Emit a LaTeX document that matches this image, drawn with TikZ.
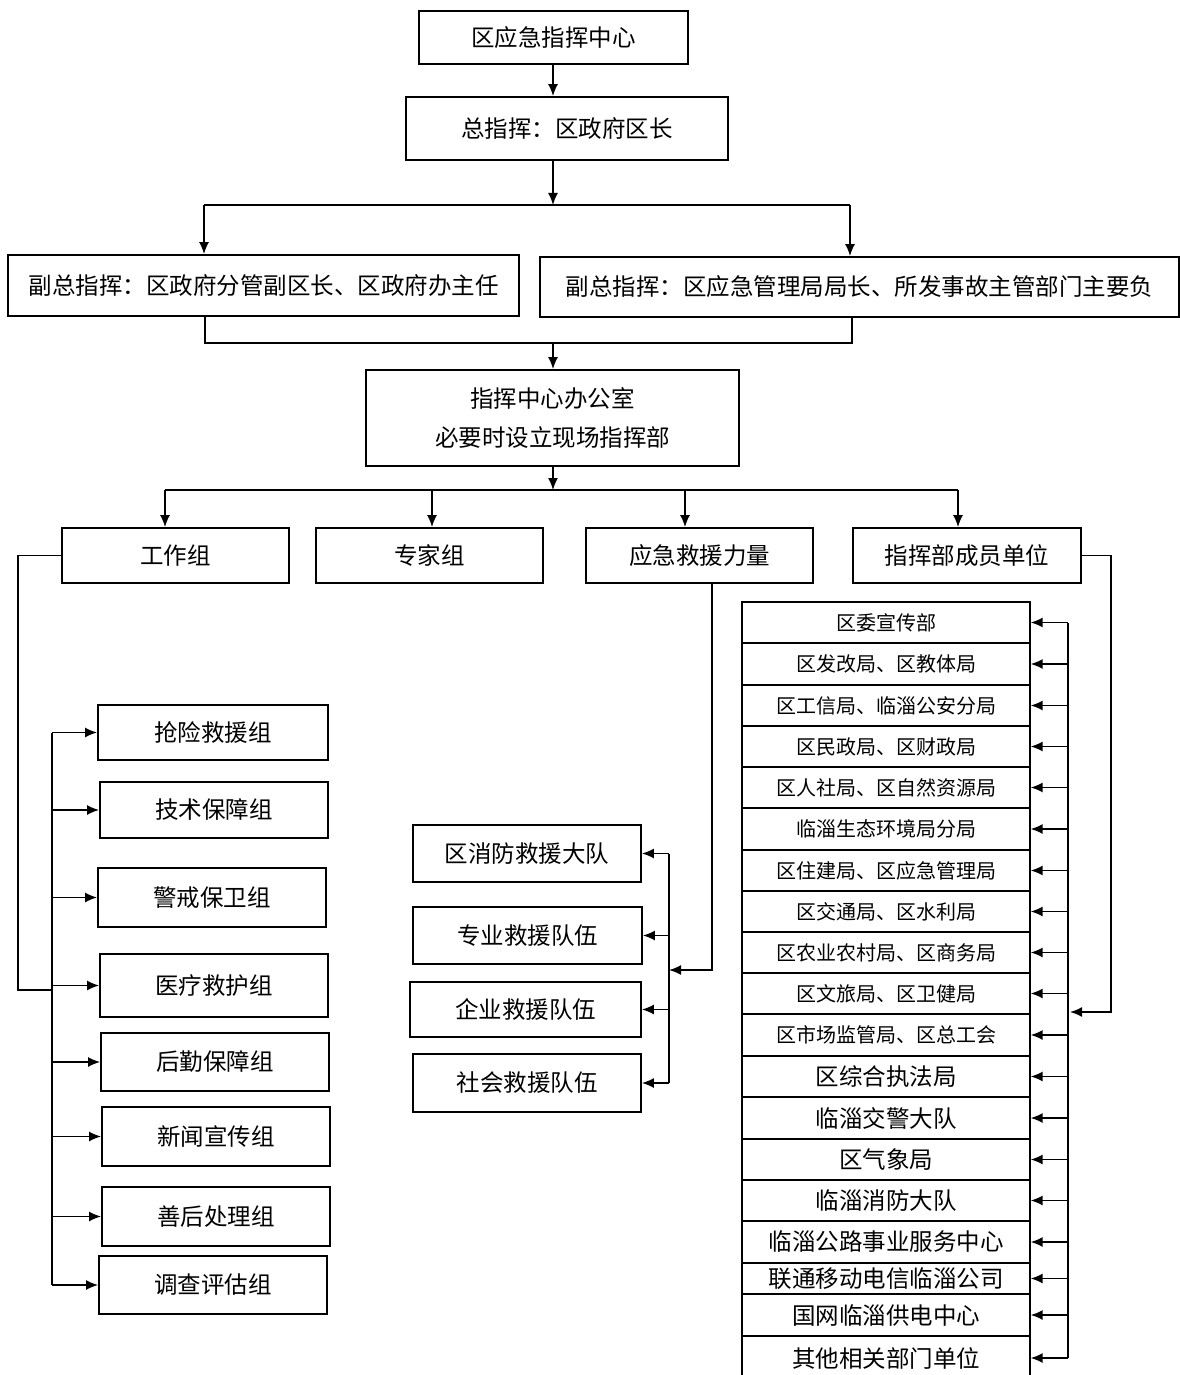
\documentclass[tikz,border=0pt]{standalone}
\usepackage{fontspec}
\setmainfont{Noto Sans CJK SC}
\usetikzlibrary{arrows.meta}
\begin{document}
\begin{tikzpicture}[x=1pt,y=-1pt,
  box/.style={draw, line width=1.8pt, inner sep=0pt, align=center, font=\fontsize{23.5}{39}\selectfont},
  sz/.style 2 args={minimum width=#1, minimum height=#2},
  row/.style={draw, line width=1.3pt, inner sep=0pt, minimum width=288, font=\fontsize{20}{24}\selectfont},
  rowbig/.style={row, font=\fontsize{23.5}{28}\selectfont},
  ln/.style={line width=1.6pt},
  arr/.style={line width=1.6pt, -{Latex[length=12pt,width=10pt]}}]
\useasboundingbox (0,0) rectangle (1179,1375);

% top levels
\node[box, sz={269}{53}] (A) at (553.5,37.5) {区应急指挥中心};
\node[box, sz={322}{63}] (B) at (567,128.5) {总指挥：区政府区长};
\node[box, sz={511}{61}] (C1) at (263.5,285.5) {副总指挥：区政府分管副区长、区政府办主任};
\node[box, sz={639}{60}] (C2) at (859.5,287) {副总指挥：区应急管理局局长、所发事故主管部门主要负};
\node[box, sz={373}{96}] (D) at (552.5,418) {指挥中心办公室\\必要时设立现场指挥部};
\node[box, sz={227}{55}] (E1) at (175.5,555.5) {工作组};
\node[box, sz={227}{55}] (E2) at (429.5,555.5) {专家组};
\node[box, sz={227}{55}] (E3) at (699.5,555.5) {应急救援力量};
\node[box, sz={228}{55}] (E4) at (967,555.5) {指挥部成员单位};

% working groups
\node[box, sz={230}{55}] (G1) at (213,732.5) {抢险救援组};
\node[box, sz={228}{56}] (G2) at (214,810) {技术保障组};
\node[box, sz={228}{59}] (G3) at (212,897.5) {警戒保卫组};
\node[box, sz={228}{63}] (G4) at (214,985.5) {医疗救护组};
\node[box, sz={228}{58}] (G5) at (215,1062) {后勤保障组};
\node[box, sz={228}{59}] (G6) at (216,1136.5) {新闻宣传组};
\node[box, sz={228}{59}] (G7) at (216,1216.5) {善后处理组};
\node[box, sz={228}{58}] (G8) at (213,1285) {调查评估组};

% rescue forces
\node[box, sz={228}{57}] (M1) at (527,853.5) {区消防救援大队};
\node[box, sz={229}{57}] (M2) at (527.5,935.5) {专业救援队伍};
\node[box, sz={231}{55}] (M3) at (525.5,1009.5) {企业救援队伍};
\node[box, sz={228}{58}] (M4) at (527,1083) {社会救援队伍};

% member units
\node[row, minimum height=41] (R1) at (886,622.5) {区委宣传部};
\node[row, minimum height=42] (R2) at (886,664) {区发改局、区教体局};
\node[row, minimum height=41] (R3) at (886,705.5) {区工信局、临淄公安分局};
\node[row, minimum height=41] (R4) at (886,746.5) {区民政局、区财政局};
\node[row, minimum height=41] (R5) at (886,787.5) {区人社局、区自然资源局};
\node[row, minimum height=42] (R6) at (886,829) {临淄生态环境局分局};
\node[row, minimum height=41] (R7) at (886,870.5) {区住建局、区应急管理局};
\node[row, minimum height=41] (R8) at (886,911.5) {区交通局、区水利局};
\node[row, minimum height=41] (R9) at (886,952.5) {区农业农村局、区商务局};
\node[row, minimum height=41] (R10) at (886,993.5) {区文旅局、区卫健局};
\node[row, minimum height=42] (R11) at (886,1035) {区市场监管局、区总工会};
\node[rowbig, minimum height=41] (R12) at (886,1076.5) {区综合执法局};
\node[rowbig, minimum height=42] (R13) at (886,1118) {临淄交警大队};
\node[rowbig, minimum height=41] (R14) at (886,1159.5) {区气象局};
\node[rowbig, minimum height=41] (R15) at (886,1200.5) {临淄消防大队};
\node[rowbig, minimum height=42] (R16) at (886,1242) {临淄公路事业服务中心};
\node[rowbig, minimum height=31] (R17) at (886,1278.5) {联通移动电信临淄公司};
\node[rowbig, minimum height=42] (R18) at (886,1315) {国网临淄供电中心};
\node[rowbig, minimum height=44] (R19) at (886,1358) {其他相关部门单位};

% junction coordinates
\coordinate (j1) at (553,205);
\coordinate (j1L) at (204,205);
\coordinate (j1R) at (850,205);
\coordinate (j2) at (553,343);
\coordinate (j2L) at (205,343);
\coordinate (j2R) at (852,343);
\coordinate (j3) at (553,490);
\coordinate (j3a) at (165,490);
\coordinate (j3b) at (432,490);
\coordinate (j3c) at (685,490);
\coordinate (j3d) at (958,490);
\coordinate (lo) at (18,990);
\coordinate (li) at (52,990);
\coordinate (mi) at (712,970);
\coordinate (mv) at (669,970);
\coordinate (ro) at (1111,1012);
\coordinate (ri) at (1070,1012);
\coordinate (rv) at (1068,622);

% connectors
\draw[arr] (A.south -| j1) -- (B.north -| j1);
\draw[arr] (B.south -| j1) -- (j1);
\draw[ln] (j1L) -- (j1R);
\draw[arr] (j1L) -- (C1.north -| j1L);
\draw[arr] (j1R) -- (C2.north -| j1R);
\draw[ln] (C1.south -| j2L) -- (j2L) -- (j2R) -- (C2.south -| j2R);
\draw[arr] (j2) -- (D.north -| j2);
\draw[arr] (D.south -| j3) -- (j3);
\draw[ln] (j3a) -- (j3d);
\draw[arr] (j3a) -- (E1.north -| j3a);
\draw[arr] (j3b) -- (E2.north -| j3b);
\draw[arr] (j3c) -- (E3.north -| j3c);
\draw[arr] (j3d) -- (E4.north -| j3d);

\draw[ln] (E1.west) -| (lo) -- (li);
\draw[ln] (G1.west -| li) -- (G8.west -| li);
\foreach \i in {1,...,8} { \draw[arr] (G\i.west -| li) -- (G\i.west); }

\draw[arr] (E3.south -| mi) -- (mi) -- (mv);
\draw[ln] (M1.east -| mv) -- (M4.east -| mv);
\foreach \i in {1,...,4} { \draw[arr] (M\i.east -| mv) -- (M\i.east); }

\draw[arr] (E4.east) -| (ro) -- (ri);
\draw[ln] (R1.east -| rv) -- (R19.east -| rv);
\foreach \i in {1,...,19} { \draw[arr] (R\i.east -| rv) -- (R\i.east); }
\end{tikzpicture}
\end{document}
